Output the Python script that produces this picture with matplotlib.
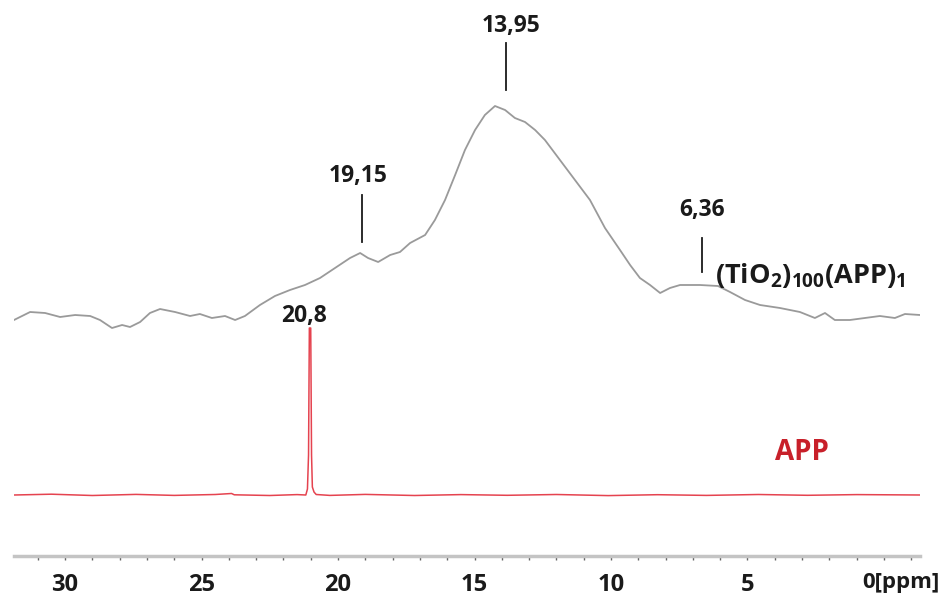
import matplotlib
matplotlib.use('Agg')
import matplotlib.pyplot as plt
import numpy as np
from matplotlib.ticker import MultipleLocator

plt.rcParams['font.family'] = ['Open Sans', 'DejaVu Sans']
plt.rcParams['mathtext.fontset'] = 'custom'
plt.rcParams['mathtext.bf'] = 'Open Sans:bold'
plt.rcParams['mathtext.rm'] = 'Open Sans'

# (TiO2)100(APP)1 trace: chemical shift (ppm) and intensity (a.u.)
tio2_ppm = [31.87, 31.28, 30.73, 30.18, 29.63, 29.08, 28.72, 28.28, 27.91, 27.62,
            27.25, 26.89, 26.52, 25.97, 25.42, 25.06, 24.62, 24.14, 23.77, 23.41,
            22.86, 22.31, 21.76, 21.21, 20.66, 20.11, 19.56, 19.19, 18.90, 18.53,
            18.09, 17.73, 17.36, 16.81, 16.45, 16.08, 15.71, 15.35, 14.98, 14.62,
            14.25, 13.88, 13.52, 13.15, 12.78, 12.42, 11.87, 11.32, 10.77, 10.22,
            9.67, 9.30, 8.94, 8.57, 8.20, 7.84, 7.47, 6.74, 6.08, 5.64,
            5.09, 4.54, 3.81, 3.08, 2.53, 2.16, 1.80, 1.25, 0.70, 0.15,
            -0.40, -0.77, -1.32]
tio2_int = [0, 8, 7, 3, 5, 4, 0, -8, -5, -7,
            -2, 7, 11, 8, 4, 6, 2, 4, 0, 4,
            15, 24, 30, 35, 42, 52, 62, 67, 62, 58,
            65, 68, 77, 85, 100, 120, 145, 170, 190, 205,
            214, 210, 202, 198, 190, 180, 160, 140, 120, 92,
            70, 55, 42, 35, 27, 32, 35, 35, 34, 28,
            20, 15, 12, 8, 2, 7, 0, 0, 2, 4,
            2, 6, 5]

# APP trace
app_ppm = [31.87, 30.5, 29.0, 27.4, 26.0, 24.5, 23.9, 23.8, 22.5, 21.5, 21.18,
           21.12, 21.08, 21.05, 21.00, 20.97, 20.94, 20.88, 20.80, 20.3, 19.0,
           17.2, 15.5, 13.8, 12.0, 10.1, 8.3, 6.5, 4.6, 2.8, 1.0, -1.32]
app_int = [0, 0.8, -0.5, 0.6, -0.4, 0.5, 1.5, 0.2, -0.5, 0.4, 0,
           6, 40, 167, 167, 40, 8, 3, 0.5, -0.4, 0.6,
           -0.5, 0.4, -0.3, 0.5, -0.6, 0.3, -0.4, 0.5, -0.3, 0.4, 0]

peak_labels = ['13,95', '19,15', '6,36']
peak_ppm = [13.85, 19.12, 6.65]

xtick_vals = [30, 25, 20, 15, 10, 5]

fig = plt.figure(figsize=(9.46, 5.98), dpi=100)
ax = fig.add_axes([14 / 946, 42 / 598, 906 / 946, 556 / 598])

offset = 175
ax.plot(tio2_ppm, np.array(tio2_int) + offset, color='#9a9a9a', lw=1.3)
ax.plot(app_ppm, app_int, color='#e5434f', lw=1.1)

ax.set_xlim(31.87, -1.32)
ax.set_ylim(-61, 495)

# peak marker lines and labels
line_spans = [(405, 452), (253, 300), (223, 257)]
text_y = [469, 319, 285]
text_dx = [-0.2, 0.15, 0.0]
for lab, p, (y0, y1), ty, dx in zip(peak_labels, peak_ppm, line_spans, text_y, text_dx):
    ax.plot([p, p], [y0, y1], color='#1a1a1a', lw=1.3)
    ax.text(p + dx, ty, lab, ha='center', va='center', fontsize=16.5,
            fontweight='bold', color='#1a1a1a')

ax.text(21.25, 179, '20,8', ha='center', va='center', fontsize=16.5,
        fontweight='bold', color='#1a1a1a')

ax.text(6.2, 212, r'$\mathbf{(TiO_{2})_{100}(APP)_{1}}$', ha='left', va='baseline',
        fontsize=19.5, color='#1a1a1a')
ax.text(3.0, 42, 'APP', ha='center', va='center', fontsize=20,
        fontweight='bold', color='#c8202a')

# axes styling
for s in ['top', 'left', 'right']:
    ax.spines[s].set_visible(False)
ax.spines['bottom'].set_color('#c4c4c4')
ax.spines['bottom'].set_linewidth(2.5)
ax.set_yticks([])
ax.set_xticks(xtick_vals)
ax.set_xticklabels([str(v) for v in xtick_vals], fontsize=17, fontweight='bold',
                   color='#1a1a1a')
ax.xaxis.set_minor_locator(MultipleLocator(1))
ax.tick_params(axis='x', which='both', direction='out', length=3, width=1,
               color='#666666', pad=9)
ax.text(0.8, -0.048, '0[ppm]', transform=ax.get_xaxis_transform(), ha='left',
        va='center', fontsize=16, fontweight='bold', color='#1a1a1a')

fig.savefig('out.png', dpi=100)
